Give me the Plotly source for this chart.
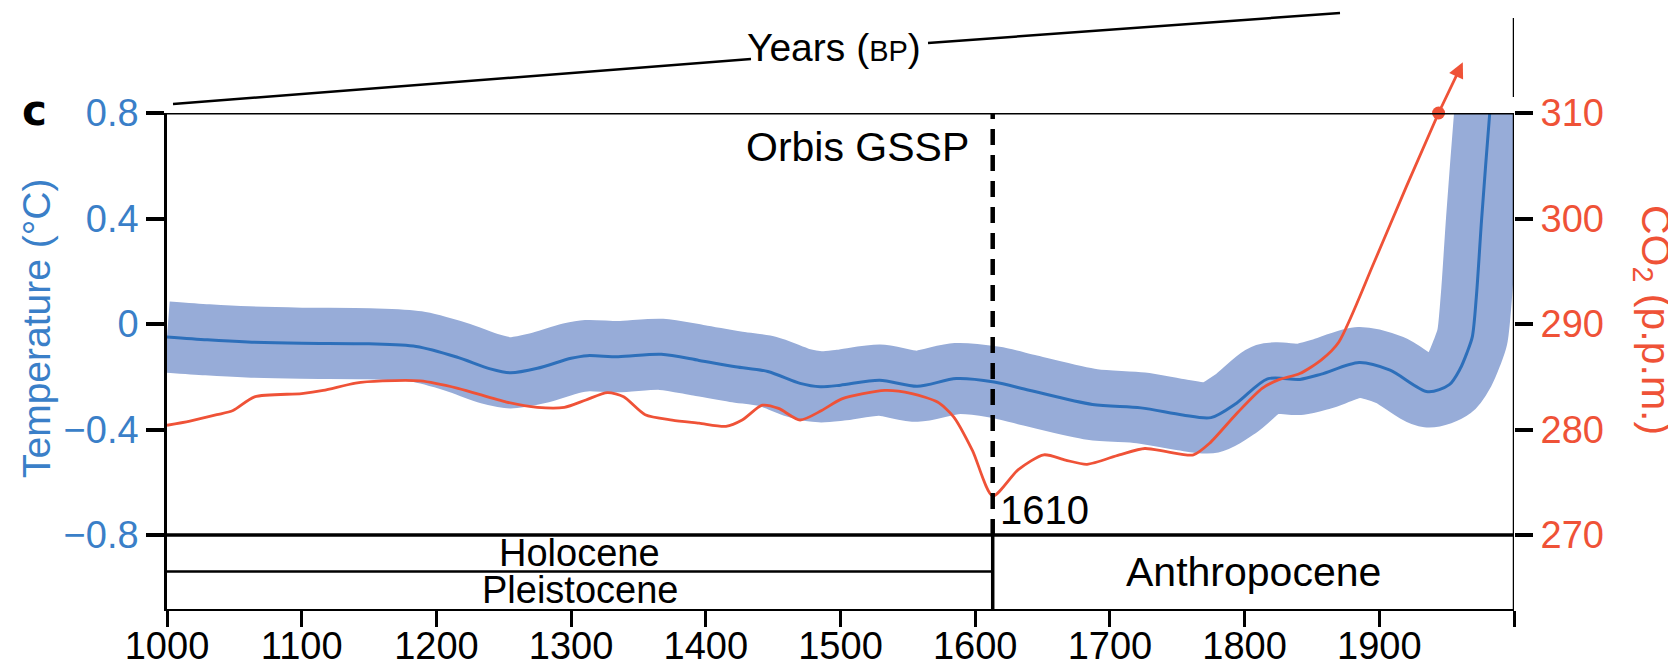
import plotly.graph_objects as go

# ---------------- data ----------------
temp_years = [1000, 1030, 1060, 1100, 1150, 1185, 1215, 1240, 1255, 1275, 1300, 1312,
              1335, 1367, 1395, 1422, 1446, 1470, 1485, 1500, 1529, 1557, 1586, 1614,
              1640, 1687, 1723, 1754, 1775, 1794, 1817, 1841, 1857, 1885, 1908, 1936,
              1952, 1960, 1965, 1969, 1972, 1976, 1982, 1989]
temp_mean = [-0.049, -0.060, -0.068, -0.073, -0.075, -0.085, -0.125, -0.170, -0.185,
             -0.168, -0.130, -0.120, -0.124, -0.115, -0.138, -0.162, -0.180, -0.225,
             -0.238, -0.232, -0.213, -0.236, -0.207, -0.220, -0.251, -0.305, -0.318,
             -0.345, -0.355, -0.300, -0.208, -0.210, -0.190, -0.146, -0.175, -0.257,
             -0.230, -0.170, -0.110, -0.050, 0.100, 0.400, 0.800, 1.200]
temp_band_half = 0.135  # +/- uncertainty (deg C)

co2_years = [1000, 1017, 1037, 1049, 1065, 1100, 1116, 1140, 1160, 1188, 1216, 1252,
             1275, 1295, 1311, 1327, 1339, 1355, 1375, 1395, 1415, 1427, 1442, 1454,
             1470, 1486, 1501, 1533, 1553, 1572, 1584, 1598, 1613, 1632, 1651, 1667,
             1683, 1707, 1726, 1742, 1762, 1774, 1794, 1813, 1825, 1841, 1857, 1870,
             1896, 1920, 1944]
co2_ppm = [280.4, 280.8, 281.4, 281.8, 283.1, 283.4, 283.7, 284.4, 284.6, 284.6, 283.9,
           282.6, 282.1, 282.1, 282.8, 283.5, 283.1, 281.4, 280.9, 280.6, 280.3, 280.9,
           282.3, 282.0, 280.9, 281.8, 282.9, 283.7, 283.4, 282.6, 281.2, 278.0, 273.7,
           276.2, 277.6, 277.1, 276.7, 277.6, 278.2, 277.9, 277.6, 278.7, 281.5, 283.9,
           284.7, 285.3, 286.6, 288.3, 295.8, 303.0, 310.0]
co2_marker_year, co2_marker_ppm = 1944, 310.0
co2_arrow_year, co2_arrow_ppm = 1962, 314.8

x_tickvals = [1000, 1100, 1200, 1300, 1400, 1500, 1600, 1700, 1800, 1900, 2000]
x_ticktext = ["1000", "1100", "1200", "1300", "1400", "1500", "1600", "1700", "1800", "1900", " "]
t_tickvals = [-0.8, -0.4, 0, 0.4, 0.8]
t_ticktext = ["\u22120.8", "\u22120.4", "0", "0.4", "0.8"]
c_tickvals = [270, 280, 290, 300, 310]
c_ticktext = ["270", "280", "290", "300", "310"]

gssp_year = 1613
gssp_label = "1610"
epoch_upper = ["Holocene", "Anthropocene"]
epoch_lower = "Pleistocene"

# ---------------- layout geometry ----------------
W, H = 1676, 671
OFFX, OFFY = 5, 8
PX_L, PX_R = 164, 1511      # screen columns of 1000 / 2000
ROW_TOP, ROW_T08, ROW_TM08, ROW_BOT = 12, 113, 535, 609
ML = PX_L - OFFX
PW = PX_R - PX_L
MR = W - ML - PW
MT = ROW_TOP - OFFY
MB = H - (ROW_BOT - OFFY)
PH = H - MT - MB
px_per_deg = (ROW_TM08 - ROW_T08) / 1.6
px_per_ppm = (ROW_TM08 - ROW_T08) / 40.0
t_min = -0.8 - (ROW_BOT - ROW_TM08) / px_per_deg
c_min = 270 - (ROW_BOT - ROW_TM08) / px_per_ppm
c_max = 310 + (ROW_T08 - ROW_TOP) / px_per_ppm
y_dom_top = (ROW_BOT - ROW_T08) / PH
epoch_div = -0.8 - 36.5 / px_per_deg


def px_x(p):
    return (p - PX_L) / PW


def px_y(p):
    return (ROW_BOT - p) / PH


FONT = "Liberation Sans, Arial, Helvetica, sans-serif"
BLUE_TXT = "#3a7fc8"
BLUE_LINE = "#2d6fba"
BAND = "#97acd8"
RED = "#ef5237"
blk = "black"

fig = go.Figure()

# temperature uncertainty band (thick stroke around mean)
fig.add_trace(go.Scatter(
    x=temp_years, y=temp_mean, mode="lines", xaxis="x", yaxis="y",
    line=dict(color=BAND, width=2 * temp_band_half * px_per_deg, shape="spline", smoothing=0.8),
    hoverinfo="skip", showlegend=False))
fig.add_trace(go.Scatter(
    x=temp_years, y=temp_mean, mode="lines", xaxis="x", yaxis="y",
    line=dict(color=BLUE_LINE, width=3, shape="spline", smoothing=0.8),
    showlegend=False))

# CO2
fig.add_trace(go.Scatter(
    x=co2_years, y=co2_ppm, mode="lines", xaxis="x2", yaxis="y2",
    line=dict(color=RED, width=2.8, shape="spline", smoothing=0.7),
    showlegend=False))
fig.add_trace(go.Scatter(
    x=[co2_marker_year], y=[co2_marker_ppm], mode="markers", xaxis="x2", yaxis="y2",
    marker=dict(color=RED, size=13), cliponaxis=False, showlegend=False))

shapes = []
shapes.append(dict(type="line", xref="x", yref="y", x0=1000, x1=2000, y0=0.8, y1=0.8,
                   line=dict(color=blk, width=3)))
shapes.append(dict(type="line", xref="x", yref="y", x0=1000, x1=2000, y0=-0.8, y1=-0.8,
                   line=dict(color=blk, width=3.5)))
shapes.append(dict(type="line", xref="x", yref="y", x0=1000, x1=gssp_year, y0=epoch_div, y1=epoch_div,
                   line=dict(color=blk, width=2.7)))
shapes.append(dict(type="line", xref="x", yref="y", x0=gssp_year, x1=gssp_year, y0=t_min, y1=-0.8,
                   line=dict(color=blk, width=3.5)))
shapes.append(dict(type="line", xref="x", yref="y", x0=gssp_year, x1=gssp_year, y0=-0.8, y1=0.8,
                   line=dict(color=blk, width=4.5, dash="16px,10px")))
shapes.append(dict(type="line", xref="x", yref="y", x0=2000, x1=2000, y0=t_min, y1=0.8,
                   line=dict(color=blk, width=2.5)))
shapes.append(dict(type="line", xref="x", yref="paper", x0=2000, x1=2000, y0=px_y(97), y1=px_y(18),
                   line=dict(color=blk, width=2.5)))
shapes.append(dict(type="line", xref="paper", yref="paper", x0=px_x(170), x1=px_x(748),
                   y0=px_y(104), y1=px_y(59), line=dict(color=blk, width=2.5)))
shapes.append(dict(type="line", xref="paper", yref="paper", x0=px_x(925), x1=px_x(1337),
                   y0=px_y(43), y1=px_y(13), line=dict(color=blk, width=2.5)))


def txt(text, x, y, size, color=blk, xref="paper", yref="paper", family=FONT, **kw):
    d = dict(text=text, x=x, y=y, xref=xref, yref=yref, showarrow=False,
             xanchor="center", yanchor="middle",
             font=dict(size=size, color=color, family=family))
    d.update(kw)
    return d


ann = [
    txt("<b>c</b>", px_x(31), px_y(110), 42, family="DejaVu Sans, Liberation Sans, sans-serif"),
    txt("Temperature (\u00b0C)", px_x(33), px_y(328), 39, BLUE_TXT, textangle=-90),
    txt("CO<sub>2</sub> (p.p.m.)", px_x(1650), px_y(320), 41, RED, textangle=90),
    txt("Years (<span style='font-size:29px'>BP</span>)", px_x(831), px_y(47), 39),
    txt("Orbis GSSP", gssp_year, 0.671, 41, xref="x", yref="y", xanchor="right", xshift=-22),
    txt(gssp_label, gssp_year, -0.707, 40, xref="x", yref="y", xanchor="left", xshift=5),
    txt(epoch_upper[0], (1000 + gssp_year) / 2, -0.868, 38, xref="x", yref="y"),
    txt(epoch_lower, (1000 + gssp_year) / 2, -1.009, 38, xref="x", yref="y"),
    txt(epoch_upper[1], (gssp_year + 2000) / 2, -0.942, 41, xref="x", yref="y"),
    dict(text="", xref="x2", yref="y2", axref="x2", ayref="y2",
         x=co2_arrow_year, y=co2_arrow_ppm, ax=co2_marker_year, ay=co2_marker_ppm,
         showarrow=True, arrowhead=2, arrowsize=1.1, arrowwidth=2.8, arrowcolor=RED,
         standoff=0, startstandoff=0),
]

fig.update_layout(
    width=W, height=H,
    margin=dict(l=ML, r=MR, t=MT, b=MB, pad=0, autoexpand=False),
    paper_bgcolor="white", plot_bgcolor="rgba(0,0,0,0)",
    font=dict(family=FONT, color=blk),
    showlegend=False,
    xaxis=dict(domain=[0, 1], range=[1000, 2000], anchor="y", tickvals=x_tickvals, ticktext=x_ticktext,
               ticks="outside", ticklen=16, tickwidth=3, tickcolor=blk, showline=True, linewidth=2.2,
               linecolor=blk, showgrid=False, zeroline=False, automargin=False,
               ticklabelstandoff=-14, tickfont=dict(size=38, color=blk)),
    yaxis=dict(domain=[0, y_dom_top], range=[t_min, 0.8], anchor="x", side="left",
               tickvals=t_tickvals, ticktext=t_ticktext, ticks="outside", ticklen=18, tickwidth=4,
               tickcolor=blk, showline=True, linewidth=2.5, linecolor=blk, showgrid=False,
               zeroline=False, automargin=False, tickfont=dict(size=38, color=BLUE_TXT)),
    xaxis2=dict(domain=[0, 1], range=[1000, 2000], anchor="y2", matches="x", visible=False),
    yaxis2=dict(domain=[0, 1], range=[c_min, c_max], anchor="x2", side="right",
                tickvals=c_tickvals, ticktext=c_ticktext, ticks="outside", ticklen=18, tickwidth=4,
                tickcolor=blk, showline=False, showgrid=False, zeroline=False, automargin=False,
                tickfont=dict(size=38, color=RED)),
    shapes=shapes, annotations=ann,
)

fig.write_html("out.html")
